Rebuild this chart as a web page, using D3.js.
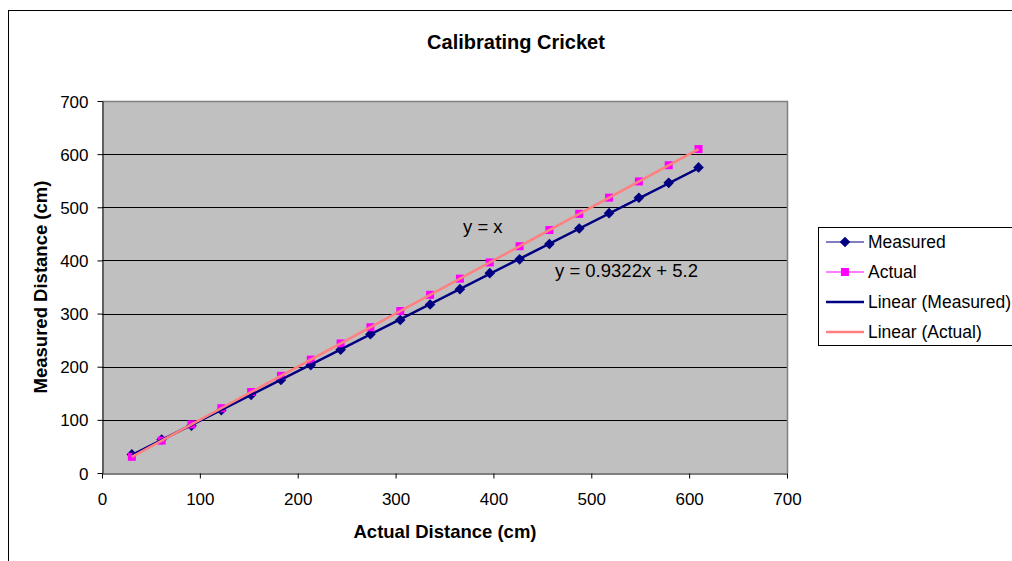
<!DOCTYPE html>
<html>
<head>
<meta charset="utf-8">
<script src="https://cdn.jsdelivr.net/npm/d3@7"></script>
<style>
  html, body { margin: 0; padding: 0; background: #fff; }
  svg { display: block; font-family: "Liberation Sans", Arial, sans-serif; }
</style>
</head>
<body>
<svg id="chart" width="1012" height="561"></svg>
<script>
// Distances in cm (1 ft steps up to 20 ft)
const actualDistance = [30.48, 60.96, 91.44, 121.92, 152.4, 182.88, 213.36, 243.84, 274.32, 304.8,
                        335.28, 365.76, 396.24, 426.72, 457.2, 487.68, 518.16, 548.64, 579.12, 609.6];
const measuredDistance = [35, 63, 89, 118, 147, 175, 203, 232, 261, 288,
                          317, 346, 376, 402, 431, 460, 489, 518, 546, 575];
const actualValues = actualDistance.slice();
const measuredFit = { slope: 0.9322, intercept: 5.2 };
const actualFit = { slope: 1, intercept: 0 };
const xTicks = [0, 100, 200, 300, 400, 500, 600, 700];
const yTicks = [0, 100, 200, 300, 400, 500, 600, 700];
const legendItems = ["Measured", "Actual", "Linear (Measured)", "Linear (Actual)"];

const svg = d3.select("#chart");
const plot = { left: 102, right: 787, top: 101, bottom: 473 };

// Outer chart frame
svg.append("rect").attr("x", 8.5).attr("y", 10.5).attr("width", 1100).attr("height", 600)
  .attr("fill", "#fff").attr("stroke", "#000").attr("stroke-width", 1);

const x = d3.scaleLinear().domain([0, 700]).range([plot.left, plot.right]);
const y = d3.scaleLinear().domain([0, 700]).range([plot.bottom, plot.top]);

// Plot background
svg.append("rect").attr("x", plot.left).attr("y", plot.top)
  .attr("width", plot.right - plot.left).attr("height", plot.bottom - plot.top)
  .attr("fill", "#c0c0c0");

// Horizontal gridlines
svg.append("g").selectAll("line").data(yTicks.filter(d => d > 0 && d < 700)).join("line")
  .attr("x1", plot.left).attr("x2", plot.right)
  .attr("y1", d => Math.round(y(d)) + 0.5).attr("y2", d => Math.round(y(d)) + 0.5)
  .attr("stroke", "#000").attr("stroke-width", 1);

// Plot frame (top & right in grey)
svg.append("path")
  .attr("d", `M${plot.left},${plot.top + 0.5}H${plot.right + 0.5}V${plot.bottom}`)
  .attr("fill", "none").attr("stroke", "#808080").attr("stroke-width", 1.5);

// Axes
const xAxis = svg.append("g").attr("transform", `translate(0,${plot.bottom + 0.5})`)
  .call(d3.axisBottom(x).tickValues(xTicks).tickSize(5).tickSizeOuter(0).tickPadding(14));
const yAxis = svg.append("g").attr("transform", `translate(${plot.left + 0.5},0)`)
  .call(d3.axisLeft(y).tickValues(yTicks).tickSize(5).tickSizeOuter(0).tickPadding(9));
[xAxis, yAxis].forEach(g => {
  g.select(".domain").attr("stroke", "#000");
  g.selectAll(".tick line").attr("stroke", "#000");
  g.selectAll(".tick text").attr("fill", "#000")
    .style("font-size", "17px").style("font-family", "'Liberation Sans', Arial, sans-serif");
});
yAxis.selectAll(".tick text").attr("dy", "0.36em");

// Titles
svg.append("text").attr("x", 516).attr("y", 49).attr("text-anchor", "middle")
  .style("font-size", "20px").style("font-weight", "bold").text("Calibrating Cricket");
svg.append("text").attr("x", 445).attr("y", 538).attr("text-anchor", "middle")
  .style("font-size", "18.5px").style("font-weight", "bold").text("Actual Distance (cm)");
svg.append("text").attr("transform", `translate(47,${(plot.top + plot.bottom) / 2}) rotate(-90)`)
  .attr("text-anchor", "middle")
  .style("font-size", "18.5px").style("font-weight", "bold").text("Measured Distance (cm)");

const line = d3.line().x(d => x(d[0])).y(d => y(d[1]));
const measuredPts = actualDistance.map((d, i) => [d, measuredDistance[i]]);
const actualPts = actualDistance.map((d, i) => [d, actualValues[i]]);
const xMin = d3.min(actualDistance), xMax = d3.max(actualDistance);
const fitPts = f => [[xMin, f.slope * xMin + f.intercept], [xMax, f.slope * xMax + f.intercept]];

// Data series lines
svg.append("path").attr("d", line(measuredPts)).attr("fill", "none")
  .attr("stroke", "#000080").attr("stroke-width", 1);
svg.append("path").attr("d", line(actualPts)).attr("fill", "none")
  .attr("stroke", "#ff00ff").attr("stroke-width", 1);

const diamond = d3.symbol().type(d3.symbolDiamond2).size(72);
const sq = 8;

// Markers
svg.append("g").selectAll("path").data(measuredPts).join("path")
  .attr("transform", d => `translate(${x(d[0])},${y(d[1])})`)
  .attr("d", diamond).attr("fill", "#000080");
svg.append("g").selectAll("rect").data(actualPts).join("rect")
  .attr("x", d => x(d[0]) - sq / 2).attr("y", d => y(d[1]) - sq / 2)
  .attr("width", sq).attr("height", sq).attr("fill", "#ff00ff");

// Trendlines
svg.append("path").attr("d", line(fitPts(measuredFit))).attr("fill", "none")
  .attr("stroke", "#000080").attr("stroke-width", 2.5);
svg.append("path").attr("d", line(fitPts(actualFit))).attr("fill", "none")
  .attr("stroke", "#ff8080").attr("stroke-width", 2.5);

// Trendline equations
svg.append("text").attr("x", 463).attr("y", 233).style("font-size", "18.5px").text("y = x");
svg.append("text").attr("x", 555).attr("y", 277).style("font-size", "18.5px")
  .text(`y = ${measuredFit.slope}x + ${measuredFit.intercept}`);

// Legend
const lg = svg.append("g");
lg.append("rect").attr("x", 818.5).attr("y", 227.5).attr("width", 220).attr("height", 118)
  .attr("fill", "#fff").attr("stroke", "#000").attr("stroke-width", 1);
const legendStyle = [
  { color: "#000080", width: 1, marker: "diamond" },
  { color: "#ff00ff", width: 1, marker: "square" },
  { color: "#000080", width: 2.5, marker: null },
  { color: "#ff8080", width: 2.5, marker: null }
];
legendItems.forEach((name, i) => {
  const cy = 242 + i * 30;
  const s = legendStyle[i];
  lg.append("line").attr("x1", 826).attr("x2", 864).attr("y1", cy).attr("y2", cy)
    .attr("stroke", s.color).attr("stroke-width", s.width);
  if (s.marker === "diamond") {
    lg.append("path").attr("transform", `translate(845,${cy})`).attr("d", diamond).attr("fill", s.color);
  } else if (s.marker === "square") {
    lg.append("rect").attr("x", 845 - sq / 2).attr("y", cy - sq / 2).attr("width", sq).attr("height", sq).attr("fill", s.color);
  }
  lg.append("text").attr("x", 868).attr("y", cy + 6).style("font-size", "17.5px").text(name);
});
</script>
</body>
</html>
